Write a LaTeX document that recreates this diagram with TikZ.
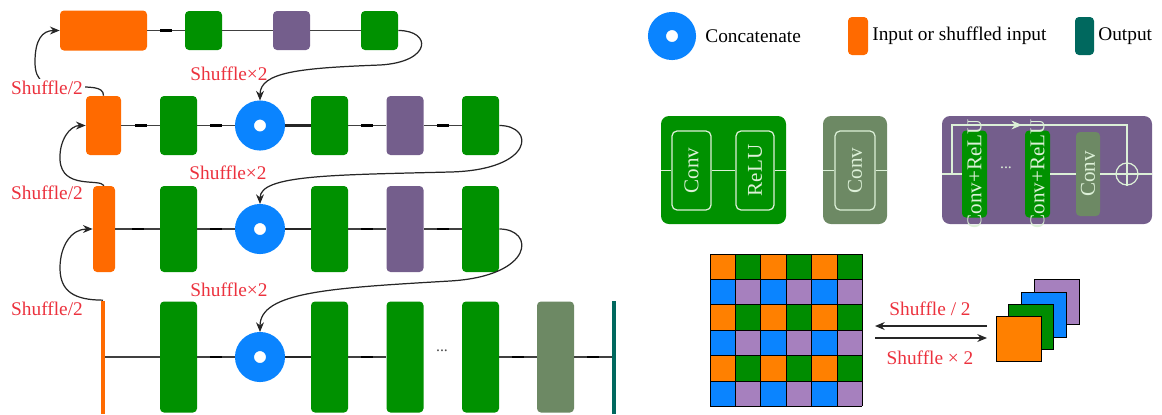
\documentclass[tikz,border=0pt]{standalone}
\usepackage{fontspec}
\setmainfont{Liberation Serif}
\usetikzlibrary{arrows.meta}

\definecolor{inorange}{RGB}{255,106,0}
\definecolor{convgreen}{RGB}{0,145,0}
\definecolor{respurple}{RGB}{116,94,140}
\definecolor{lastgray}{RGB}{109,137,100}
\definecolor{catblue}{RGB}{10,132,255}
\definecolor{outteal}{RGB}{0,104,94}
\definecolor{shufred}{RGB}{236,50,62}
\definecolor{gridorange}{RGB}{255,128,0}
\definecolor{gridgreen}{RGB}{0,140,0}
\definecolor{gridpurple}{RGB}{166,128,190}
\definecolor{paletext}{RGB}{220,240,215}

\tikzset{
  blk/.style 2 args={rectangle, rounded corners=0.08cm, inner sep=0pt,
    minimum width=#1*0.02cm, minimum height=#2*0.02cm},
  inp/.style={fill=inorange},
  cv/.style={fill=convgreen},
  rb/.style={fill=respurple},
  lc/.style={fill=lastgray},
  cat/.style={circle, draw=catblue, fill=white, line width=0.38cm,
    minimum size=0.62cm, inner sep=0pt},
  wire/.style={draw=black!75, line width=0.7pt},
  fat/.style={draw=black!85, line width=1.6pt},
  bar/.style={fill=black, inner sep=0pt, minimum width=0.24cm, minimum height=0.05cm},
  jump/.style={draw=black!85, line width=0.7pt, -{Stealth[length=5.5pt,width=4.5pt]}},
  shuf/.style={text=shufred, inner sep=1pt, font=\fontsize{11}{13}\selectfont},
  legtext/.style={anchor=west, inner sep=0pt, font=\fontsize{11}{13}\selectfont},
  inbox/.style={draw=paletext, line width=0.7pt, rounded corners=0.1cm},
  inwire/.style={draw=paletext, line width=0.7pt},
  btext/.style={text=paletext, rotate=90, inner sep=0pt, font=\fontsize{12}{14}\selectfont},
}

\begin{document}
\begin{tikzpicture}[x=0.02cm, y=-0.02cm]
    \useasboundingbox (0,0) rectangle (1162,414);

    % row 1
    \node[blk={87}{40}, inp] (i1) at (103.5,30.5) {};
    \node[blk={37}{39}, cv] (r1a) at (203.5,30.5) {};
    \node[blk={37}{39}, rb] (r1b) at (291.5,30.5) {};
    \node[blk={37}{39}, cv] (r1c) at (379.5,30.5) {};
    \draw[wire] (i1) -- node[bar] {} (r1a);
    \draw[wire] (r1a) -- (r1b);
    \draw[wire] (r1b) -- (r1c);

    % row 2
    \node[blk={35}{59}, inp] (i2) at (103.5,125.5) {};
    \node[blk={37}{59}, cv] (r2a) at (178.5,125.5) {};
    \node[cat] (k2) at (260,125.5) {};
    \node[blk={37}{59}, cv] (r2b) at (329.5,125.5) {};
    \node[blk={37}{59}, rb] (r2c) at (405,125.5) {};
    \node[blk={37}{59}, cv] (r2d) at (480.5,125.5) {};
    \draw[wire] (i2) -- node[bar] {} (r2a);
    \draw[wire] (r2a) -- node[bar] {} (k2);
    \draw[fat] (k2) -- (r2b);
    \draw[wire] (r2b) -- node[bar] {} (r2c);
    \draw[wire] (r2c) -- node[bar] {} (r2d);

    % row 3
    \node[blk={22}{86}, inp] (i3) at (104,229) {};
    \node[blk={37}{86}, cv] (r3a) at (178.5,229) {};
    \node[cat] (k3) at (260,229) {};
    \node[blk={37}{86}, cv] (r3b) at (329.5,229) {};
    \node[blk={37}{86}, rb] (r3c) at (405,229) {};
    \node[blk={37}{86}, cv] (r3d) at (480.5,229) {};
    \draw[wire] (i3) -- node[bar] {} (r3a);
    \draw[wire] (r3a) -- node[bar] {} (k3);
    \draw[fat] (k3) -- (r3b);
    \draw[wire] (r3b) -- node[bar] {} (r3c);
    \draw[wire] (r3c) -- node[bar] {} (r3d);

    % row 4
    \node[blk={4}{113}, inp, sharp corners] (i4) at (103,357) {};
    \node[blk={37}{111}, cv] (r4a) at (178.5,357) {};
    \node[cat] (k4) at (260,357) {};
    \node[blk={37}{111}, cv] (r4b) at (329.5,357) {};
    \node[blk={37}{111}, cv] (r4c) at (405,357) {};
    \node[text=black!70, inner sep=0pt, font=\fontsize{9}{10}\selectfont] (dt) at (442,351) {...};
    \node[blk={37}{111}, cv] (r4d) at (480.5,357) {};
    \node[blk={37}{111}, lc] (r4e) at (555.5,357) {};
    \node[blk={4}{113}, fill=outteal, sharp corners] (out) at (614,357) {};
    \draw[wire] (i4) -- (r4a);
    \draw[wire] (r4a) -- node[bar] {} (k4);
    \draw[fat] (k4) -- (r4b);
    \draw[wire] (r4b) -- node[bar] {} (r4c);
    \draw[wire] (r4d) -- node[bar] {} (r4e);
    \draw[wire] (r4e) -- node[bar] {} (out);

    % shuffle x2 (up-sampling back to the finer row)
    \draw[jump] (r1c.east) .. controls (432,30.5) and (432,62) .. (380,65)
        .. controls (300,68) and (260,72) .. (k2.north);
    \draw[jump] (r2d.east) .. controls (535,125.5) and (535,170) .. (450,172)
        .. controls (330,175) and (260,175) .. (k3.north);
    \draw[jump] (r3d.east) .. controls (535,229) and (535,276) .. (450,281)
        .. controls (330,288) and (260,292) .. (k4.north);
    \node[shuf] (x12) at (229,74) {Shuffle×2};
    \node[shuf] (x23) at (228,173) {Shuffle×2};
    \node[shuf] (x34) at (229,290) {Shuffle×2};

    % shuffle /2 (down to the coarser row)
    \draw[jump] (i2.north) .. controls (103.5,86) and (90,87) .. (70,87)
        .. controls (45,87) and (35,82) .. (35,62)
        .. controls (35,40) and (42,30.5) .. (i1.west);
    \draw[jump] (i3.north) .. controls (100,178) and (62,190) .. (60,160)
        .. controls (59,140) and (70,125.5) .. (i2.west);
    \draw[jump] (i4.north) .. controls (75,300) and (60,292) .. (60,268)
        .. controls (60,245) and (72,229) .. (i3.west);
    \node[shuf, fill=white] (s21) at (47,88) {Shuffle/2};
    \node[shuf, fill=white] (s32) at (47,193) {Shuffle/2};
    \node[shuf, fill=white] (s43) at (47,309) {Shuffle/2};

    % legend
    \node[cat, line width=0.36cm, minimum size=0.6cm] (lk) at (672,36) {};
    \node[legtext] (lkt) at (705,36) {Concatenate};
    \node[blk={20}{38}, inp] (li) at (858,36) {};
    \node[legtext] (lit) at (872,36) {Input or shuffled input};
    \node[blk={19}{38}, fill=outteal] (lo) at (1084.5,36) {};
    \node[legtext] (lot) at (1098,36) {Output};

    % conv + relu block
    \node[blk={125}{108}, cv, rounded corners=0.16cm] (bcv) at (723.5,170) {};
    \node[blk={39}{79}, inbox] (bcv1) at (691.5,170.5) {};
    \node[blk={38}{79}, inbox] (bcv2) at (755,170.5) {};
    \node[btext] (bcv1t) at (bcv1) {Conv};
    \node[btext] (bcv2t) at (bcv2) {ReLU};
    \draw[inwire] (bcv.west |- bcv1) -- (bcv1);
    \draw[inwire] (bcv1) -- (bcv2);
    \draw[inwire] (bcv2) -- (bcv2 -| bcv.east);

    % last conv block
    \node[blk={64}{108}, lc, rounded corners=0.16cm] (blc) at (855,170) {};
    \node[blk={40}{79}, inbox] (blc1) at (855,170.5) {};
    \node[btext] (blc1t) at (blc1) {Conv};
    \draw[inwire] (blc.west |- blc1) -- (blc1);
    \draw[inwire] (blc1) -- (blc1 -| blc.east);

    % residual block
    \node[blk={210}{108}, rb, rounded corners=0.16cm] (brb) at (1047,170) {};
    \node[blk={25}{87}, cv] (s1) at (974.5,174) {};
    \node[blk={25}{87}, cv] (s2) at (1037.5,174) {};
    \node[blk={24}{84}, lc] (s3) at (1088,174) {};
    \node[circle, draw=paletext, line width=0.7pt, minimum size=0.44cm, inner sep=0pt] (cp) at (1127,174) {};
    \draw[inwire] (cp.north) -- (cp.south) (cp.west) -- (cp.east);
    \coordinate (sk) at (952,174);
    \draw[inwire] (brb.west |- cp) -- (s1);
    \draw[inwire] (s2) -- (s3);
    \draw[inwire] (s3) -- (cp);
    \draw[inwire] (cp) -- (cp -| brb.east);
    \draw[inwire] (sk) -- (952,125) -| (cp.north);
    \draw[paletext, -{Stealth[length=6pt,width=5pt]}] (1000,125) -- (1022,125);
    \node[btext] (s1t) at (s1) {Conv+ReLU};
    \node[btext] (s2t) at (s2) {Conv+ReLU};
    \node[btext] (s3t) at (s3) {Conv};
    \node[text=paletext, inner sep=0pt, font=\fontsize{9}{10}\selectfont] (sdt) at (1006,168) {...};

    % pixel grid
    \foreach \r in {0,2,4} {
        \foreach \c in {0,2,4} {
            \fill[gridorange] ({710+25.4*\c},{254+25.4*\r}) rectangle ++(25.4,25.4);
            \fill[gridgreen] ({710+25.4*(\c+1)},{254+25.4*\r}) rectangle ++(25.4,25.4);
            \fill[catblue] ({710+25.4*\c},{254+25.4*(\r+1)}) rectangle ++(25.4,25.4);
            \fill[gridpurple] ({710+25.4*(\c+1)},{254+25.4*(\r+1)}) rectangle ++(25.4,25.4);
        }
    }
    \foreach \i in {0,...,6} {
        \draw[line width=0.5pt] ({710+25.4*\i},254) -- ++(0,152.4);
        \draw[line width=0.5pt] (710,{254+25.4*\i}) -- ++(152.4,0);
    }

    % shuffle arrows
    \coordinate (pl) at (875,326);
    \coordinate (pr) at (987,326);
    \coordinate (ql) at (875,338);
    \coordinate (qr) at (987,338);
    \draw[jump] (pr) -- (pl);
    \draw[jump] (ql) -- (qr);
    \node[shuf] (sh1) at (930,309) {Shuffle / 2};
    \node[shuf] (sh2) at (930,358) {Shuffle × 2};

    % channel stack
    \foreach \col [count=\n] in {gridpurple, catblue, gridgreen, gridorange} {
        \node[draw, line width=0.5pt, fill=\col, minimum size=0.9cm, inner sep=0pt] (sq\n)
            at ({1018.5+12.7*(4-\n)},{339-12.2*(4-\n)}) {};
    }
\end{tikzpicture}
\end{document}
